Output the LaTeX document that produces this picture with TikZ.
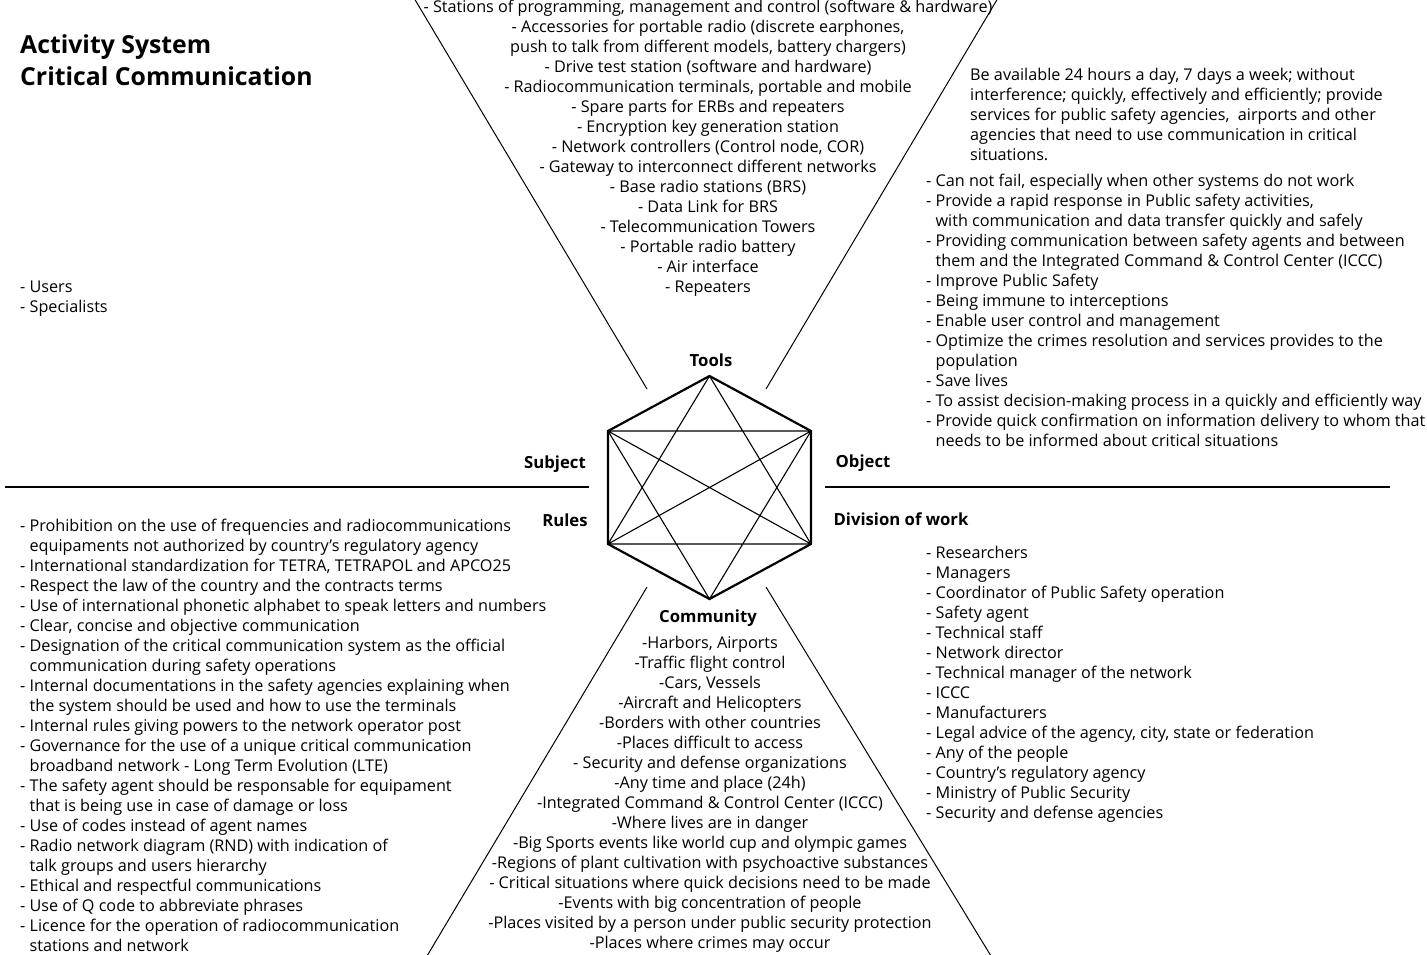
\documentclass[tikz,border=0pt]{standalone}
\usepackage{fontspec}
\setmainfont{Open Sans}
\newcommand\hng{\hphantom{- }}
\begin{document}
\begin{tikzpicture}[x=1pt,y=-1pt,
  body/.style={inner sep=0pt, font=\fontsize{16.2}{20}\selectfont},
  leftlist/.style={body, anchor=north west, align=left},
  midlist/.style={body, anchor=north, align=center},
  corner/.style={inner sep=0pt, anchor=base, font=\fontsize{16.7}{20}\selectfont\bfseries},
  rim/.style={line width=2.2pt, line join=miter},
  chord/.style={line width=1.1pt},
  ray/.style={line width=1pt}]
\useasboundingbox (0,0) rectangle (1427,954);

% title
\node[inner sep=0pt, anchor=base west, align=left,
      font=\fontsize{24.8}{32}\selectfont\bfseries] (title) at (20,85)
  {Activity System\\Critical Communication};

% hexagon vertices
\coordinate (T)  at (709.5,376);
\coordinate (UL) at (608,431);
\coordinate (UR) at (811,431);
\coordinate (LL) at (608,544);
\coordinate (LR) at (811,544);
\coordinate (B)  at (709.5,599);

% chords
\draw[chord] (T) -- (LL) (T) -- (LR) (B) -- (UL) (B) -- (UR)
             (UL) -- (LR) (UR) -- (LL) (UL) -- (UR) (LL) -- (LR);
% outline
\draw[rim] (T) -- (UR) -- (LR) -- (B) -- (LL) -- (UL) -- cycle;

% rays and separators
\coordinate (r1a) at (414,-2);  \coordinate (r1b) at (647,389);
\coordinate (r2a) at (998,-2);  \coordinate (r2b) at (766,389);
\coordinate (r3a) at (647,587); \coordinate (r3b) at (427,956);
\coordinate (r4a) at (766,587); \coordinate (r4b) at (991,956);
\coordinate (h1a) at (5,487);   \coordinate (h1b) at (589,487);
\coordinate (h2a) at (825,487); \coordinate (h2b) at (1390,487);
\draw[ray] (r1a) -- (r1b) (r2a) -- (r2b) (r3a) -- (r3b) (r4a) -- (r4b);
\draw[chord] (h1a) -- (h1b) (h2a) -- (h2b);

% corner labels
\node[corner] (tools) at (711,366) {Tools};
\node[corner] (subject) at (555,468) {Subject};
\node[corner] (object) at (863,467) {Object};
\node[corner] (rules) at (565,526) {Rules};
\node[corner] (division) at (901,525) {Division of work};
\node[corner] (community) at (708,622) {Community};

% tools
\node[midlist] (toolslist) at (708,-1.5) {\strut- Stations of programming, management and control (software \& hardware)\\
- Accessories for portable radio (discrete earphones,\\
push to talk from different models, battery chargers)\\
- Drive test station (software and hardware)\\
- Radiocommunication terminals, portable and mobile\\
- Spare parts for ERBs and repeaters\\
- Encryption key generation station\\
- Network controllers (Control node, COR)\\
- Gateway to interconnect different networks\\
- Base radio stations (BRS)\\
- Data Link for BRS\\
- Telecommunication Towers\\
- Portable radio battery\\
- Air interface\\
- Repeaters};

% object
\node[leftlist] (objecttext) at (970,66) {\strut Be available 24 hours a day, 7 days a week; without\\
interference; quickly, effectively and efficiently; provide\\
services for public safety agencies,\ \ airports and other\\
agencies that need to use communication in critical\\
situations.};
\node[leftlist] (objectlist) at (926,172) {\strut- Can not fail, especially when other systems do not work\\
- Provide a rapid response in Public safety activities,\\
\hng with communication and data transfer quickly and safely\\
- Providing communication between safety agents and between\\
\hng them and the Integrated Command \& Control Center (ICCC)\\
- Improve Public Safety\\
- Being immune to interceptions\\
- Enable user control and management\\
- Optimize the crimes resolution and services provides to the\\
\hng population\\
- Save lives\\
- To assist decision-making process in a quickly and efficiently way\\
- Provide quick confirmation on information delivery to whom that\\
\hng needs to be informed about critical situations};

% subject
\node[leftlist] (subjectlist) at (20,278) {\strut- Users\\- Specialists};

% rules
\node[leftlist] (ruleslist) at (20,517) {\strut- Prohibition on the use of frequencies and radiocommunications\\
\hng equipaments not authorized by country's regulatory agency\\
- International standardization for TETRA, TETRAPOL and APCO25\\
- Respect the law of the country and the contracts terms\\
- Use of international phonetic alphabet to speak letters and numbers\\
- Clear, concise and objective communication\\
- Designation of the critical communication system as the official\\
\hng communication during safety operations\\
- Internal documentations in the safety agencies explaining when\\
\hng the system should be used and how to use the terminals\\
- Internal rules giving powers to the network operator post\\
- Governance for the use of a unique critical communication\\
\hng broadband network - Long Term Evolution (LTE)\\
- The safety agent should be responsable for equipament\\
\hng that is being use in case of damage or loss\\
- Use of codes instead of agent names\\
- Radio network diagram (RND) with indication of\\
\hng talk groups and users hierarchy\\
- Ethical and respectful communications\\
- Use of Q code to abbreviate phrases\\
- Licence for the operation of radiocommunication\\
\hng stations and network};

% division of work
\node[leftlist] (divisionlist) at (926,544) {\strut- Researchers\\
- Managers\\
- Coordinator of Public Safety operation\\
- Safety agent\\
- Technical staff\\
- Network director\\
- Technical manager of the network\\
- ICCC\\
- Manufacturers\\
- Legal advice of the agency, city, state or federation\\
- Any of the people\\
- Country's regulatory agency\\
- Ministry of Public Security\\
- Security and defense agencies};

% community
\node[midlist] (communitylist) at (710,634) {\strut-Harbors, Airports\\
-Traffic flight control\\
-Cars, Vessels\\
-Aircraft and Helicopters\\
-Borders with other countries\\
-Places difficult to access\\
- Security and defense organizations\\
-Any time and place (24h)\\
-Integrated Command \& Control Center (ICCC)\\
-Where lives are in danger\\
-Big Sports events like world cup and olympic games\\
-Regions of plant cultivation with psychoactive substances\\
- Critical situations where quick decisions need to be made\\
-Events with big concentration of people\\
-Places visited by a person under public security protection\\
-Places where crimes may occur};
\end{tikzpicture}
\end{document}
